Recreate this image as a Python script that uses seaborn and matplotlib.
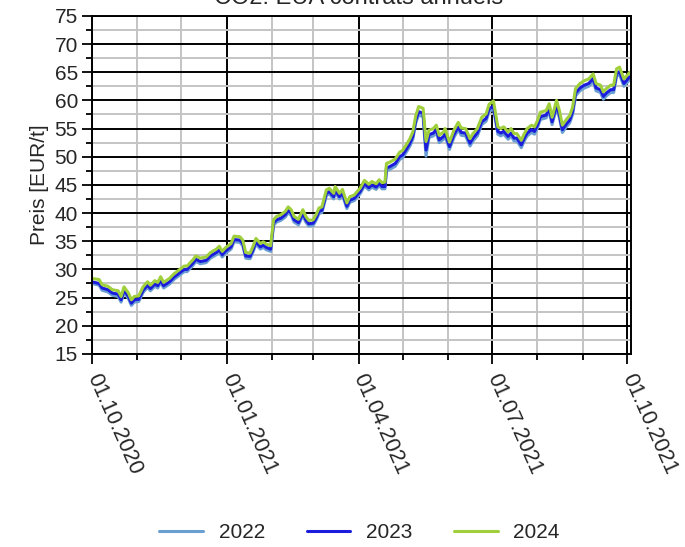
import pandas as pd
import seaborn as sns
import matplotlib.pyplot as plt
import matplotlib.dates as mdates
from matplotlib.ticker import MultipleLocator


# CO2: EUA Jahreskontrakte, Preise in EUR/t

datum = [
    '2020-10-01', '2020-10-06', '2020-10-08', '2020-10-12', '2020-10-15', '2020-10-19', '2020-10-21',
    '2020-10-23', '2020-10-26', '2020-10-28', '2020-10-30', '2020-11-02', '2020-11-05', '2020-11-08',
    '2020-11-10', '2020-11-13', '2020-11-15', '2020-11-17', '2020-11-19', '2020-11-23', '2020-11-26',
    '2020-11-30', '2020-12-03', '2020-12-05', '2020-12-09', '2020-12-11', '2020-12-14', '2020-12-18',
    '2020-12-21', '2020-12-25', '2020-12-27', '2020-12-29', '2020-12-31', '2021-01-03', '2021-01-04',
    '2021-01-06', '2021-01-10', '2021-01-12', '2021-01-14', '2021-01-17', '2021-01-19', '2021-01-21',
    '2021-01-24', '2021-01-26', '2021-01-28', '2021-01-31', '2021-02-02', '2021-02-04', '2021-02-07',
    '2021-02-10', '2021-02-12', '2021-02-14', '2021-02-16', '2021-02-19', '2021-02-22', '2021-02-24',
    '2021-02-26', '2021-03-01', '2021-03-03', '2021-03-05', '2021-03-07', '2021-03-10', '2021-03-12',
    '2021-03-15', '2021-03-16', '2021-03-19', '2021-03-21', '2021-03-24', '2021-03-26', '2021-03-29',
    '2021-04-02', '2021-04-05', '2021-04-08', '2021-04-10', '2021-04-13', '2021-04-15', '2021-04-17',
    '2021-04-19', '2021-04-20', '2021-04-22', '2021-04-26', '2021-04-29', '2021-05-01', '2021-05-04',
    '2021-05-06', '2021-05-08', '2021-05-10', '2021-05-12', '2021-05-15', '2021-05-17', '2021-05-19',
    '2021-05-22', '2021-05-24', '2021-05-26', '2021-05-29', '2021-05-30', '2021-06-02', '2021-06-05',
    '2021-06-08', '2021-06-10', '2021-06-13', '2021-06-16', '2021-06-18', '2021-06-21', '2021-06-24',
    '2021-06-27', '2021-06-29', '2021-07-02', '2021-07-05', '2021-07-07', '2021-07-09', '2021-07-12',
    '2021-07-14', '2021-07-16', '2021-07-18', '2021-07-21', '2021-07-23', '2021-07-25', '2021-07-28',
    '2021-07-30', '2021-08-01', '2021-08-03', '2021-08-07', '2021-08-09', '2021-08-11', '2021-08-14',
    '2021-08-16', '2021-08-18', '2021-08-21', '2021-08-23', '2021-08-25', '2021-08-27', '2021-08-30',
    '2021-09-02', '2021-09-05', '2021-09-08', '2021-09-10', '2021-09-13', '2021-09-15', '2021-09-17',
    '2021-09-20', '2021-09-22', '2021-09-24', '2021-09-26', '2021-09-29', '2021-10-01', '2021-10-03',
]

preis_2022 = [
    27.5, 27.2, 26.3, 26.0, 25.4, 25.2, 24.2, 25.9, 24.8, 23.6, 24.2, 24.3, 25.9, 26.8,
    26.2, 27.0, 26.7, 27.7, 26.7, 27.4, 28.2, 29.0, 29.6, 29.6, 30.7, 31.4, 31.0, 31.2,
    32.0, 32.6, 33.1, 32.2, 32.8, 33.4, 33.6, 34.9, 34.8, 34.2, 32.0, 31.9, 33.1, 34.5,
    33.6, 33.9, 33.5, 33.2, 37.8, 38.4, 38.7, 39.3, 40.1, 39.6, 38.4, 37.9, 39.6, 38.4,
    37.7, 37.8, 38.7, 39.9, 40.1, 43.1, 43.4, 42.5, 43.7, 42.5, 43.2, 40.8, 41.9, 42.2,
    43.4, 44.8, 44.1, 44.6, 44.2, 44.9, 44.3, 44.3, 47.5, 47.7, 48.3, 49.5, 49.8, 51.0,
    51.9, 53.1, 56.0, 57.4, 57.1, 50.1, 53.4, 53.7, 54.3, 52.5, 53.1, 53.7, 51.3, 53.4,
    54.8, 53.8, 53.7, 51.9, 52.8, 53.7, 55.7, 56.3, 58.0, 58.5, 54.0, 53.7, 54.0, 53.1,
    53.7, 52.8, 52.8, 51.6, 52.8, 53.7, 54.3, 54.0, 55.1, 56.6, 56.9, 58.1, 55.7, 58.7,
    56.9, 54.3, 55.4, 56.0, 57.5, 60.8, 61.7, 62.2, 62.5, 63.4, 61.7, 61.4, 60.2, 60.8,
    61.4, 61.4, 64.3, 64.6, 62.5, 63.1, 63.7,
]

preis_2023 = [
    27.8, 27.5, 26.7, 26.4, 25.8, 25.6, 24.6, 26.3, 25.2, 24.0, 24.6, 24.7, 26.3, 27.2,
    26.6, 27.4, 27.1, 28.1, 27.1, 27.8, 28.6, 29.4, 30.0, 30.0, 31.1, 31.8, 31.4, 31.6,
    32.4, 33.0, 33.5, 32.6, 33.2, 33.8, 34.0, 35.3, 35.2, 34.6, 32.4, 32.3, 33.5, 34.9,
    34.0, 34.3, 33.9, 33.6, 38.2, 38.8, 39.1, 39.7, 40.5, 40.0, 38.8, 38.3, 40.0, 38.8,
    38.1, 38.2, 39.1, 40.3, 40.5, 43.5, 43.8, 42.9, 44.1, 42.9, 43.6, 41.2, 42.3, 42.6,
    43.8, 45.2, 44.5, 45.0, 44.6, 45.3, 44.7, 44.7, 48.0, 48.2, 48.8, 50.0, 50.3, 51.5,
    52.4, 53.6, 56.5, 58.0, 57.7, 51.2, 53.9, 54.2, 54.8, 53.0, 53.6, 54.2, 51.8, 53.9,
    55.3, 54.3, 54.2, 52.4, 53.3, 54.2, 56.2, 56.8, 58.5, 59.0, 54.5, 54.2, 54.5, 53.6,
    54.2, 53.3, 53.3, 52.1, 53.3, 54.2, 54.8, 54.5, 55.6, 57.1, 57.4, 58.6, 56.2, 59.2,
    57.4, 54.8, 55.9, 56.5, 58.0, 61.3, 62.2, 62.7, 63.0, 63.9, 62.2, 61.9, 60.7, 61.3,
    61.9, 61.9, 64.8, 65.1, 63.0, 63.6, 64.2,
]

preis_2024 = [
    28.4, 28.2, 27.3, 27.0, 26.4, 26.2, 25.2, 26.9, 25.8, 24.6, 25.2, 25.3, 26.9, 27.8,
    27.2, 28.0, 27.7, 28.7, 27.7, 28.4, 29.2, 30.0, 30.6, 30.6, 31.7, 32.4, 32.0, 32.2,
    33.0, 33.6, 34.1, 33.2, 33.8, 34.4, 34.6, 35.9, 35.8, 35.2, 33.0, 32.9, 34.1, 35.5,
    34.6, 34.9, 34.5, 34.2, 38.8, 39.4, 39.7, 40.3, 41.1, 40.6, 39.4, 38.9, 40.6, 39.4,
    38.7, 38.8, 39.7, 40.9, 41.1, 44.1, 44.4, 43.5, 44.7, 43.5, 44.2, 41.8, 42.9, 43.2,
    44.4, 45.8, 45.1, 45.6, 45.2, 45.9, 45.4, 45.5, 48.8, 49.0, 49.6, 50.8, 51.1, 52.3,
    53.2, 54.4, 57.3, 58.9, 58.6, 52.7, 54.7, 55.0, 55.6, 53.8, 54.4, 55.0, 52.6, 54.7,
    56.1, 55.1, 55.0, 53.2, 54.1, 55.0, 57.0, 57.6, 59.3, 59.9, 55.3, 55.0, 55.3, 54.4,
    55.0, 54.1, 54.1, 52.9, 54.1, 55.0, 55.6, 55.3, 56.4, 57.9, 58.2, 59.4, 57.0, 60.0,
    58.2, 55.6, 56.7, 57.3, 58.8, 62.1, 63.0, 63.5, 63.8, 64.7, 63.0, 62.7, 61.5, 62.1,
    62.7, 62.7, 65.6, 65.9, 63.8, 64.4, 65.0,
]

jahre = ['2022', '2023', '2024']
farben = {'2022': '#6a9fd2', '2023': '#1c1cdc', '2024': '#9fd03c'}

df = pd.concat([
    pd.DataFrame({'Datum': pd.to_datetime(datum), 'Preis': werte, 'Jahr': jahr})
    for jahr, werte in zip(jahre, [preis_2022, preis_2023, preis_2024])
])

sns.set_style('white')
plt.rcParams['font.family'] = ['Liberation Sans', 'DejaVu Sans']

fig = plt.figure(figsize=(6.85, 5.47), dpi=100)
ax = fig.add_axes([0.134, 0.353, 0.787, 0.618])

sns.lineplot(data=df, x='Datum', y='Preis', hue='Jahr', palette=farben,
             linewidth=2.2, ax=ax)

ax.set_xlim(pd.Timestamp('2020-10-01'), pd.Timestamp('2021-10-03 18:00'))
ax.set_ylim(15, 75)

ax.yaxis.set_major_locator(MultipleLocator(5))
ax.yaxis.set_minor_locator(MultipleLocator(2.5))
ax.xaxis.set_major_locator(mdates.MonthLocator(bymonth=[1, 4, 7, 10]))
ax.xaxis.set_minor_locator(mdates.MonthLocator())
ax.xaxis.set_major_formatter(mdates.DateFormatter('%d.%m.%Y'))

# Gitter: schwarz fuer Hauptlinien, grau fuer Nebenlinien
ax.set_axisbelow(True)
ax.grid(which='minor', color='#c4c4c4', linewidth=1.4)
ax.grid(which='major', color='black', linewidth=1.4)

for spine in ax.spines.values():
    spine.set_color('black')
    spine.set_linewidth(1.4)

ax.tick_params(which='both', bottom=True, left=True, direction='out', color='black', width=1.3)
ax.tick_params(which='major', length=7, labelsize=15, pad=3)
ax.tick_params(which='minor', length=4)
ax.tick_params(axis='x', which='major', pad=8, labelsize=15.5)

for lbl in ax.get_xticklabels():
    lbl.set_rotation(-66)
    lbl.set_ha('left')
    lbl.set_va('center')
    lbl.set_rotation_mode('anchor')

ax.set_xlabel('')
ax.set_ylabel('Preis [EUR/t]', fontsize=15, labelpad=4)

fig.text(0.523, 0.992, 'CO2: EUA contrats annuels', ha='center', va='baseline', fontsize=17)

sns.move_legend(ax, 'center', bbox_to_anchor=(0.525, 0.026), bbox_transform=fig.transFigure,
                ncol=3, frameon=False, title=None, fontsize=15,
                handlelength=2.1, handletextpad=0.75, columnspacing=2.0)

plt.savefig('out.png', dpi=100)
